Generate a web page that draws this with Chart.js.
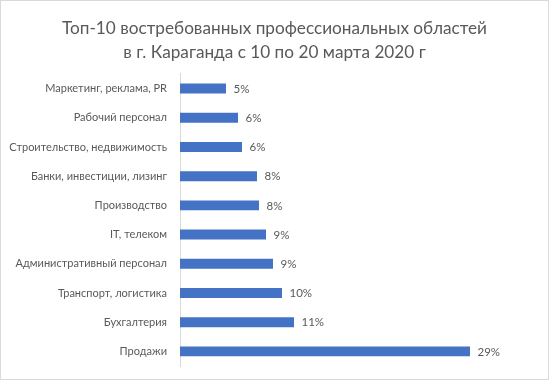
<!DOCTYPE html>
<html>
<head>
<meta charset="utf-8">
<script src="https://cdn.jsdelivr.net/npm/chart.js@4/dist/chart.umd.min.js"></script>
<style>
  html, body { margin: 0; padding: 0; background: #fff; }
  #frame { position: absolute; left: 0; top: 0; width: 547px; height: 378px; border: 1px solid #d9d9d9; background: #fff; }
  #c { display: block; }
</style>
</head>
<body>
<div id="frame"><canvas id="c" width="547" height="378"></canvas></div>
<script>
const titleLines = ["Топ-10 востребованных профессиональных областей", "в г. Караганда с 10 по 20 марта 2020 г"];
const categories = [
  "Маркетинг, реклама, PR",
  "Рабочий персонал",
  "Строительство, недвижимость",
  "Банки, инвестиции, лизинг",
  "Производство",
  "IT, телеком",
  "Административный персонал",
  "Транспорт, логистика",
  "Бухгалтерия",
  "Продажи"
];
const shares = [4.6, 5.8, 6.2, 7.7, 7.9, 8.6, 9.3, 10.2, 11.4, 29.0];
const shareLabels = ["5%", "6%", "6%", "8%", "8%", "9%", "9%", "10%", "11%", "29%"];

const FONT = "Lato, 'Open Sans', sans-serif";
const TXT = "#595959";

const valueLabelPlugin = {
  id: "valueLabels",
  afterDatasetsDraw(chart) {
    const ctx = chart.ctx;
    const meta = chart.getDatasetMeta(0);
    ctx.save();
    ctx.font = "11.5px " + FONT;
    ctx.fillStyle = TXT;
    ctx.textAlign = "left";
    ctx.textBaseline = "middle";
    meta.data.forEach((bar, i) => {
      ctx.fillText(shareLabels[i], bar.x + 7.5, bar.y + 0.5);
    });
    ctx.restore();
  }
};

new Chart(document.getElementById("c"), {
  type: "bar",
  data: {
    labels: categories,
    datasets: [{
      data: shares,
      backgroundColor: "#4472C4",
      borderWidth: 0,
      categoryPercentage: 0.34,
      barPercentage: 1
    }]
  },
  options: {
    indexAxis: "y",
    responsive: false,
    animation: false,
    devicePixelRatio: 1,
    layout: { padding: { left: 0, right: 0, top: 0, bottom: 13 } },
    plugins: {
      legend: { display: false },
      tooltip: { enabled: false },
      title: {
        display: true,
        text: titleLines,
        color: TXT,
        font: { family: FONT, size: 17.2, weight: "normal", lineHeight: 1.4 },
        padding: { top: 15.5, bottom: 9.3 }
      }
    },
    scales: {
      x: { display: false, min: 0, max: 36.8 },
      y: {
        grid: { display: false, drawTicks: true, tickLength: 13 },
        border: { display: true, color: "#d9d9d9", width: 1 },
        ticks: { color: TXT, font: { family: FONT, size: 11 }, padding: 0 },
        afterFit(scale) { scale.width = 179; }
      }
    }
  },
  plugins: [valueLabelPlugin]
});
</script>
</body>
</html>
